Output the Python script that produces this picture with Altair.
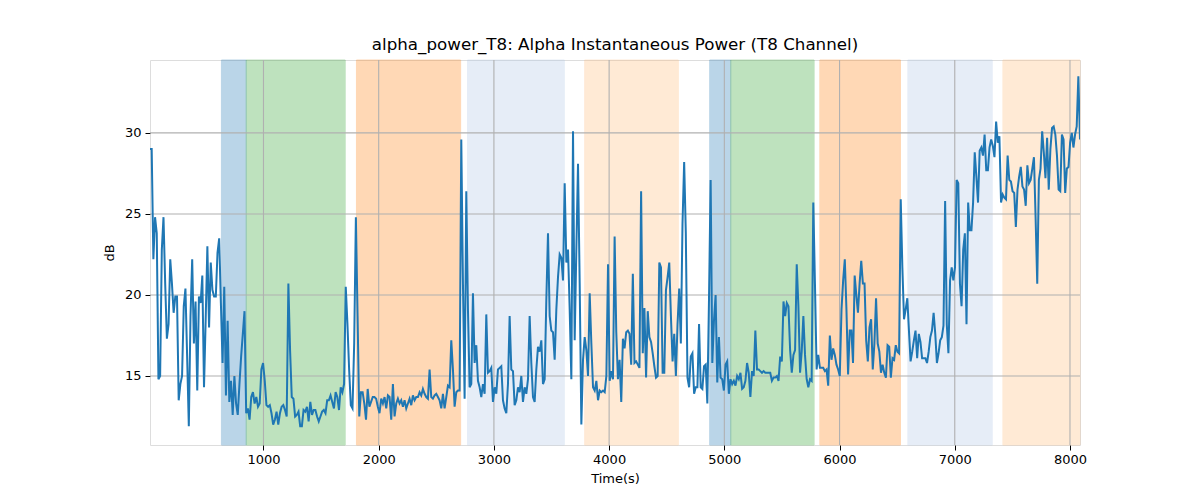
import altair as alt
import numpy as np
import pandas as pd

# ---- series values (dB) in four consecutive spans ----
seg1_vals = [29, 29, 22.2, 24.8, 23.8, 14.8, 15, 22.8, 24.8, 20.7, 17.3, 18.2, 22.2, 20.7, 18.9, 19.9, 19.9,
             13.5, 14.5, 15, 19.3, 20.4, 16.2, 11.9, 18.7, 22.2, 17, 19.6, 14.1, 19.9, 19.5, 21.2, 14.3, 18.5,
             23, 18, 22, 20.3, 19.9, 19.9, 22.6, 23.5, 19.5, 15.8, 20.5, 13.8, 18.4, 13.4, 14.7, 12.6, 15, 13.3,
             12.6, 14.5, 16.2, 17.6, 19, 12.7, 13, 12.3, 13.7, 14, 13.3, 13.7, 13.1, 13.3, 15.4, 15.8, 14.7,
             13.2, 13.1, 13.2, 12.7, 12, 12.3, 12.8, 12, 12.7, 13.1, 13.2, 12.9, 12.5, 20.7, 16.6, 13.7, 13.6,
             12.5, 12.6, 12.8, 11.9, 11.9, 12.9, 12.8, 13.1, 12.2, 13.4, 12.6, 12.9, 12.9, 12.5, 12.2, 12.5,
             12.8, 12.9, 12.7, 13.5, 13.5, 13.8, 13.4, 13, 14, 13.7, 12.9, 14.3, 14, 14.5, 20.5, 18.2, 15.4,
             13.2, 13, 17, 24.8, 18.7, 12.5, 14, 14, 13.3, 12.3, 14.2, 13.1, 13.4, 13.7, 13.7, 13.6, 13.1, 12.7]
seg2_vals = [13.6, 13.3, 13.7, 13, 13.8, 13.7, 12.3, 14.5, 12.5, 13.3, 13.6, 13.3, 13.5, 13.1, 13.5, 13, 13.3,
             13.6, 13.2, 13.8, 13.5, 13.7, 13.7, 14, 13.8, 14.2, 13.9, 13.7, 13.6, 15.4, 13.7, 13.6, 13.8, 13.9,
             13.7, 13.5, 13, 13.9, 13, 13.7, 14.4, 14.3, 17.2, 15.4, 13.1, 14, 14.1, 14.1, 29.6, 20.7, 13.6,
             26.4, 19.1, 14.3, 14.5, 20.1, 15.8, 16.9, 14.7, 14.3, 13.7, 14.5, 13.9, 18.8, 15.2, 15.3, 15.5,
             13.4, 14.3, 13.9, 15.4, 15.5, 15.6, 13.5, 13, 12.7, 14.5, 18.7, 15.4, 15.3, 13.2, 13.5, 14.3, 14,
             15, 13.4, 14.3, 13.9, 14.8, 18.7, 15.8, 13.7, 13.4, 15.4, 16.8, 16.5, 17.2, 14.5, 14.8, 19.7, 23.8,
             18.7, 17.8, 17.7, 16, 19.1, 21.1, 22.5, 22.3, 20.9, 26.9, 22, 22.8, 19.1, 14.8, 30.1, 17.2, 22.8,
             28.1, 20.7, 12, 16, 17.4, 16.6, 15, 20.1, 17, 14.3, 14.1, 14.7, 13.5, 14.1, 14, 14.1, 14, 15, 21.9,
             14.7]
seg3_vals = [15.3, 14.8, 23.6, 17.7, 14.8, 16, 13.4, 17.3, 16.7, 17.7, 17.8, 17.6, 15.7, 21.3, 15.8, 15.9, 15.7,
             15.5, 26.4, 16.4, 19.2, 14.9, 19, 17.4, 17.1, 16.4, 15.6, 14.9, 15, 22, 21.7, 15.2, 15.2, 20.3,
             21.1, 22, 18.7, 15.9, 17.6, 15, 18.2, 20.4, 17, 24.4, 28.2, 23.8, 14.9, 14.3, 16.2, 16.4, 13.9,
             14.3, 14.3, 18.2, 14.3, 14.2, 15.6, 15.7, 13.3, 19.7, 27.1, 15.8, 18.4, 20, 14.6, 17.4, 14.9, 14.8,
             14.1, 15.7, 15.9, 13.9, 14.8, 14.5, 14.7, 14.4, 15, 14.8, 15.2, 14.2, 14.3, 14.7, 15.8, 15.2, 13.7,
             15.3, 15, 17.8, 15.4, 15.4, 15.3, 15.2, 15.3, 15.2, 15.2, 15.2, 15.2, 14.7, 14.9, 14.9, 15, 14.7,
             16.2, 15.9, 19.6, 18.7, 19.5, 19.3, 16.6, 15.2, 16.3, 16.6, 21.9, 19.3, 15.2, 16.5, 18.7, 16.3,
             14.8, 14.3, 14.8, 14.7, 25.7, 20.7, 15.4, 16.3, 15.5, 15.5, 15.5, 15.3, 15.4, 14.4, 17.5, 16, 16.7,
             16.3, 15.7, 15.4, 15]
seg4_vals = [19.1, 20.9, 22.2, 19.1, 15.1, 17.8, 17.8, 15.8, 21.2, 20, 18.9, 20.7, 22.1, 20.7, 20.7, 17.2, 15.9,
             18, 18.5, 15.4, 17, 19.8, 17, 16.5, 15.2, 15.7, 15.2, 14.9, 16.9, 16.8, 14.9, 16.1, 16, 16.9, 16.5,
             16.4, 25.9, 21.7, 18.5, 19.1, 19.8, 17.8, 15.9, 16.5, 17.2, 17.8, 16.1, 17.6, 17.1, 16.1, 16.1,
             16.1, 15.8, 16.5, 17.4, 17.8, 18.9, 17.6, 15.8, 16.4, 17.2, 17.4, 18.1, 25.8, 18.2, 16.4, 20.9,
             21.7, 20.9, 21.7, 27.1, 26.9, 20.7, 19.3, 22.8, 23.8, 18.2, 25.7, 24, 24, 25.7, 28.8, 27.3, 25.7,
             28.9, 29.1, 28.6, 29.9, 27.7, 27.7, 29.1, 29.6, 29.2, 28.5, 30.7, 29.4, 29.8, 25.7, 26.2, 26, 25.9,
             28.6, 27.1, 27, 26.4, 26.3, 24.2, 26.5, 27.3, 27.9, 26.7, 26.5, 25.5, 28, 26.9, 27.1, 27.8, 28.5,
             24.8, 20.7, 27.1, 27.8, 30.1, 28.8, 27.2, 29.7, 26.5, 29, 30.3, 30.4, 29.9, 28.6, 26.5, 26.4, 29.9,
             29.6, 26.3, 27.8, 27.9, 29.4, 30, 29.1, 29.9, 30.4, 33.5, 29.6]
# time span (s) covered by each segment
seg_start = [15, 2022, 4019, 6017]
seg_end = [2007, 4005, 6002, 8087]

# ---- shaded intervals ----
band_start = [635, 850, 1807, 2771, 3788, 4873, 5056, 5829, 6593, 7418]
band_end = [850, 1709, 2711, 3611, 4601, 5056, 5779, 6529, 7325, 8087]
band_color = ["#1f77b4", "#2ca02c", "#ff7f0e", "#aec7e8", "#ffbb78",
              "#1f77b4", "#2ca02c", "#ff7f0e", "#aec7e8", "#ffbb78"]

x_ticks = [1000, 2000, 3000, 4000, 5000, 6000, 7000, 8000]
y_ticks = [15, 20, 25, 30]
x_domain = [15, 8087]
y_domain = [10.74, 34.5]

segs = [seg1_vals, seg2_vals, seg3_vals, seg4_vals]
times, vals = [], []
for s, e, v in zip(seg_start, seg_end, segs):
    times.extend(np.linspace(s, e, len(v)).tolist())
    vals.extend(v)
df = pd.DataFrame({"t": times, "v": vals})
bands = pd.DataFrame({"a": band_start, "b": band_end, "c": band_color})
xg = pd.DataFrame({"x": x_ticks})
yg = pd.DataFrame({"y": y_ticks})

W, H = 930, 385
xs = alt.Scale(domain=x_domain, nice=False, zero=False)
ys = alt.Scale(domain=y_domain, nice=False, zero=False)

font = "DejaVu Sans"
x_axis = alt.Axis(values=x_ticks, format="d", title="Time(s)", grid=False, domain=False,
                  tickColor="black", tickSize=5, labelPadding=3, labelFontSize=13, labelColor="black",
                  labelFont=font, titleFont=font, titleFontSize=13, titleFontWeight="normal",
                  titleColor="black", titlePadding=6)
y_axis = alt.Axis(values=y_ticks, format="d", title="dB", grid=False, domain=False,
                  tickColor="black", tickSize=5, labelPadding=4, labelFontSize=13, labelColor="black",
                  labelFont=font, titleFont=font, titleFontSize=13, titleFontWeight="normal",
                  titleColor="black", titlePadding=8)

band_layer = alt.Chart(bands).mark_rect(opacity=0.3, strokeWidth=1).encode(
    x=alt.X("a:Q", scale=xs, axis=x_axis),
    x2="b:Q",
    color=alt.Color("c:N", scale=None),
    stroke=alt.Stroke("c:N", scale=None),
)
xgrid = alt.Chart(xg).mark_rule(color="#b0b0b0", strokeWidth=1.1).encode(
    x=alt.X("x:Q", scale=xs, axis=x_axis))
ygrid = alt.Chart(yg).mark_rule(color="#b0b0b0", strokeWidth=1.1).encode(
    y=alt.Y("y:Q", scale=ys, axis=y_axis))
line = alt.Chart(df).mark_line(color="#1f77b4", strokeWidth=2, clip=True).encode(
    x=alt.X("t:Q", scale=xs, axis=x_axis),
    y=alt.Y("v:Q", scale=ys, axis=y_axis),
)

chart = alt.layer(band_layer, xgrid, ygrid, line).properties(
    width=W, height=H,
    title=alt.TitleParams("alpha_power_T8: Alpha Instantaneous Power (T8 Channel)",
                          font=font, fontSize=16.7, fontWeight="normal", color="black", offset=6),
    autosize=alt.AutoSizeParams(type="none"),
    padding={"left": 142, "top": 52, "right": 112, "bottom": 47},
).configure_view(stroke="black", strokeWidth=1.1).configure(background="white")

chart.save("out.html", embed_options={"renderer": "svg", "actions": False})
